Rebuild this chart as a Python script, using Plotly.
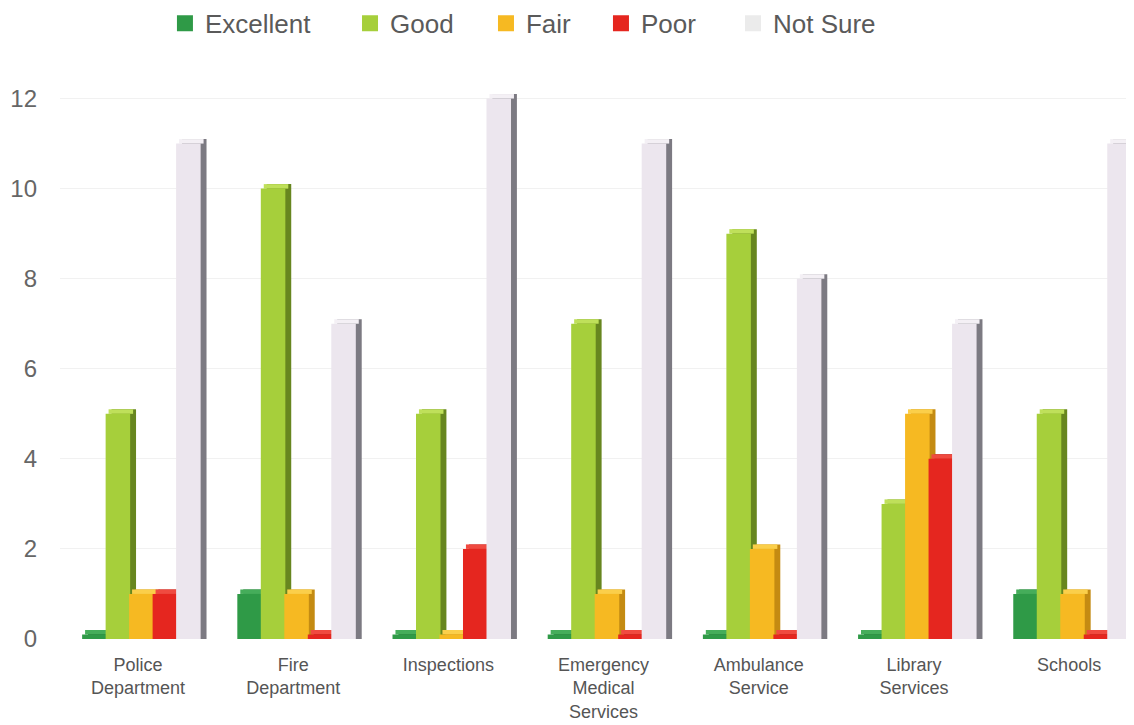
import plotly.graph_objects as go

categories = ["Police<br>Department", "Fire<br>Department", "Inspections",
              "Emergency<br>Medical<br>Services", "Ambulance<br>Service",
              "Library<br>Services", "Schools"]
series_names = ["Excellent", "Good", "Fair", "Poor", "Not Sure"]
excellent = [0, 1, 0, 0, 0, 0, 1]
good = [5, 10, 5, 7, 9, 3, 5]
fair = [1, 1, 0, 1, 2, 5, 1]
poor = [1, 0, 2, 0, 0, 4, 0]
not_sure = [11, 7, 12, 11, 8, 7, 11]
y_ticks = [0, 2, 4, 6, 8, 10, 12]

front_colors = ["#2f9a47", "#a6cf3b", "#f6b922", "#e5261f", "#ece6ee"]
side_colors = ["#1e6d31", "#67861f", "#c48b12", "#a3160f", "#7c7a82"]
top_colors = ["#45ad5a", "#bfe05a", "#fbcf4a", "#f04a40", "#f4f0f5"]
legend_colors = ["#2f9a47", "#a6cf3b", "#f6b922", "#e5261f", "#ebebeb"]
all_values = [excellent, good, fair, poor, not_sure]

STUB = 0.1     # visual floor so zero bars show as a thin 3D base
CAP = 0.1      # depth of the pseudo-3D top face
FIRST = -0.36
STEP = 0.1514
WIDTH = 0.158
SIDE = 0.038

fig = go.Figure()
for i, (name, vals) in enumerate(zip(series_names, all_values)):
    shown = [max(v, STUB) for v in vals]
    off = FIRST + i * STEP
    fig.add_trace(go.Bar(
        x=categories, y=[s + CAP for s in shown], offset=off + SIDE, width=WIDTH,
        marker=dict(color=side_colors[i], line=dict(width=0)),
        showlegend=False, hoverinfo="skip"))
    fig.add_trace(go.Bar(
        x=categories, y=[CAP] * len(shown), base=shown,
        offset=off + SIDE * 0.5, width=WIDTH,
        marker=dict(color=top_colors[i], line=dict(width=0)),
        showlegend=False, hoverinfo="skip"))
    fig.add_trace(go.Bar(
        x=categories, y=shown, offset=off, width=WIDTH,
        marker=dict(color=front_colors[i], line=dict(width=0)),
        customdata=vals, name=name, showlegend=False,
        hovertemplate=name + ": %{customdata}<extra></extra>"))

legend_x = [0.1384, 0.3016, 0.4215, 0.5229, 0.6393]
legend_ids = ["legend", "legend2", "legend3", "legend4", "legend5"]
for name, col, lid in zip(series_names, legend_colors, legend_ids):
    fig.add_trace(go.Scatter(
        x=[None], y=[None], mode="markers", name=name, legend=lid,
        marker=dict(symbol="square", size=17, color=col)))

legend_style = dict(orientation="h", xref="container", yref="container",
                    xanchor="left", y=0.979, yanchor="middle",
                    font=dict(size=26, color="#5a5a5a"),
                    itemwidth=30, bgcolor="rgba(0,0,0,0)", borderwidth=0)
layout_legends = {lid: dict(legend_style, x=lx) for lid, lx in zip(legend_ids, legend_x)}

fig.update_layout(
    width=1134, height=725,
    paper_bgcolor="white", plot_bgcolor="white",
    barmode="overlay",
    margin=dict(l=52, r=8, t=50, b=94),
    font=dict(family="Liberation Sans, Arial, sans-serif", color="#555555"),
    showlegend=True,
    **layout_legends,
)
fig.update_xaxes(type="category", range=[-0.5026, 6.418], automargin=False,
                 showgrid=False, showline=False, zeroline=False,
                 ticks="", ticklabelstandoff=13,
                 tickfont=dict(size=18, color="#555555"))
fig.update_yaxes(range=[0, 12.9], tickvals=y_ticks, automargin=False,
                 showgrid=True, gridcolor="#f1f1f1", gridwidth=1,
                 zeroline=False, showline=False, ticks="",
                 ticklabelstandoff=22,
                 tickfont=dict(size=24, color="#666666"))

fig.write_html("out.html")
